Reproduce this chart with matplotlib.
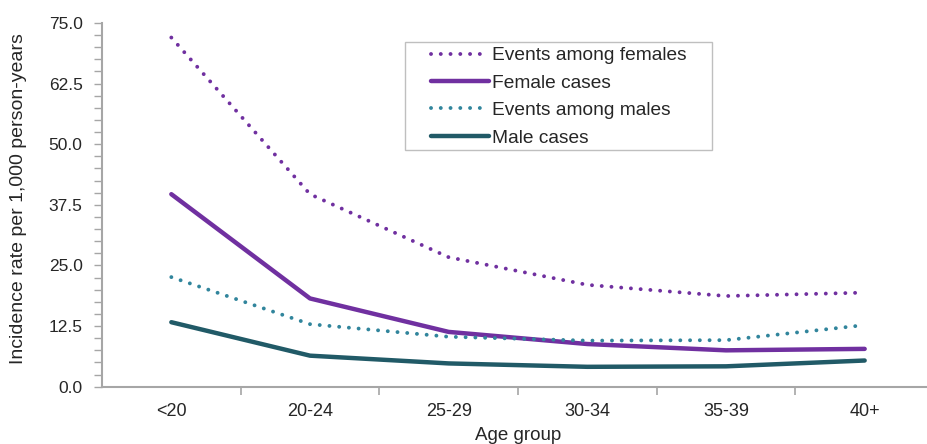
import matplotlib
matplotlib.use('Agg')
import matplotlib.pyplot as plt
from matplotlib.ticker import MultipleLocator, FormatStrFormatter
from matplotlib.patches import Rectangle

plt.rcParams['font.family'] = ['Liberation Sans', 'DejaVu Sans']

age_groups = ['<20', '20-24', '25-29', '30-34', '35-39', '40+']
events_females = [72.0, 39.7, 26.7, 21.0, 18.7, 19.4]
female_cases = [39.7, 18.2, 11.3, 8.8, 7.5, 7.8]
events_males = [22.6, 12.9, 10.3, 9.5, 9.6, 12.7]
male_cases = [13.3, 6.4, 4.8, 4.1, 4.2, 5.4]

PURPLE = '#7030A0'
TEAL = '#31859C'
DARK_TEAL = '#215A67'
GREY = '#A6A6A6'
TEXT = '#262626'

W, H = 927, 444
fig = plt.figure(figsize=(W / 100, H / 100), dpi=100)
ax = fig.add_axes([102 / W, 1 - 386.7 / H, 832 / W, 363.7 / H])

x = range(len(age_groups))
dots = (0, (0.01, 2.5))
ax.plot(x, events_females, color=PURPLE, lw=2.8, linestyle=dots,
        dash_capstyle='round', label='Events among females')
ax.plot(x, female_cases, color=PURPLE, lw=3.2, solid_capstyle='round',
        label='Female cases')
ax.plot(x, events_males, color=TEAL, lw=2.8, linestyle=dots,
        dash_capstyle='round', label='Events among males')
ax.plot(x, male_cases, color=DARK_TEAL, lw=3.2, solid_capstyle='round',
        label='Male cases')

ax.set_xlim(-0.5, 5.5)
ax.set_ylim(0, 75)
ax.yaxis.set_major_locator(MultipleLocator(12.5))
ax.yaxis.set_minor_locator(MultipleLocator(2.5))
ax.yaxis.set_major_formatter(FormatStrFormatter('%.1f'))

# category labels centred, ticks on the boundaries
ax.set_xticks([i + 0.5 for i in range(len(age_groups) - 1)])
ax.set_xticklabels([])
ax.set_xticks(list(x), minor=True)
ax.set_xticklabels(age_groups, minor=True)
ax.tick_params(axis='x', which='major', length=6, width=1.2, color=GREY)
ax.tick_params(axis='x', which='minor', length=0, labelsize=13, pad=12,
               labelcolor=TEXT)
ax.tick_params(axis='y', which='both', length=6, width=1.0, color=GREY,
               labelsize=12.5, labelcolor=TEXT, pad=8)

for side in ['top', 'right']:
    ax.spines[side].set_visible(False)
for side in ['left', 'bottom']:
    ax.spines[side].set_color(GREY)
    ax.spines[side].set_linewidth(1.5)

ax.set_xlabel('Age group', fontsize=13.5, color=TEXT)
ax.xaxis.set_label_coords(0.5, (386.7 - 427) / 363.7)
ax.set_ylabel('Incidence rate per 1,000 person-years', fontsize=14,
              color=TEXT, va='center')
ax.yaxis.set_label_coords((19 - 102) / 832, (386.7 - 199) / 363.7)

# legend box drawn separately so the handles can sit indented like the original
fig.patches.append(Rectangle((405 / W, 1 - 150 / H), 307 / W, 108 / H,
                             transform=fig.transFigure, fill=False,
                             edgecolor='#BFBFBF', lw=1.0))
leg = ax.legend(loc='upper left', bbox_to_anchor=(431 / W, 1 - 47 / H),
                bbox_transform=fig.transFigure, fontsize=13.8, frameon=False,
                handlelength=3.0, handletextpad=0.2, labelspacing=0.52,
                borderpad=0, borderaxespad=0)
for t in leg.get_texts():
    t.set_color(TEXT)

fig.savefig('out.png', dpi=100)
